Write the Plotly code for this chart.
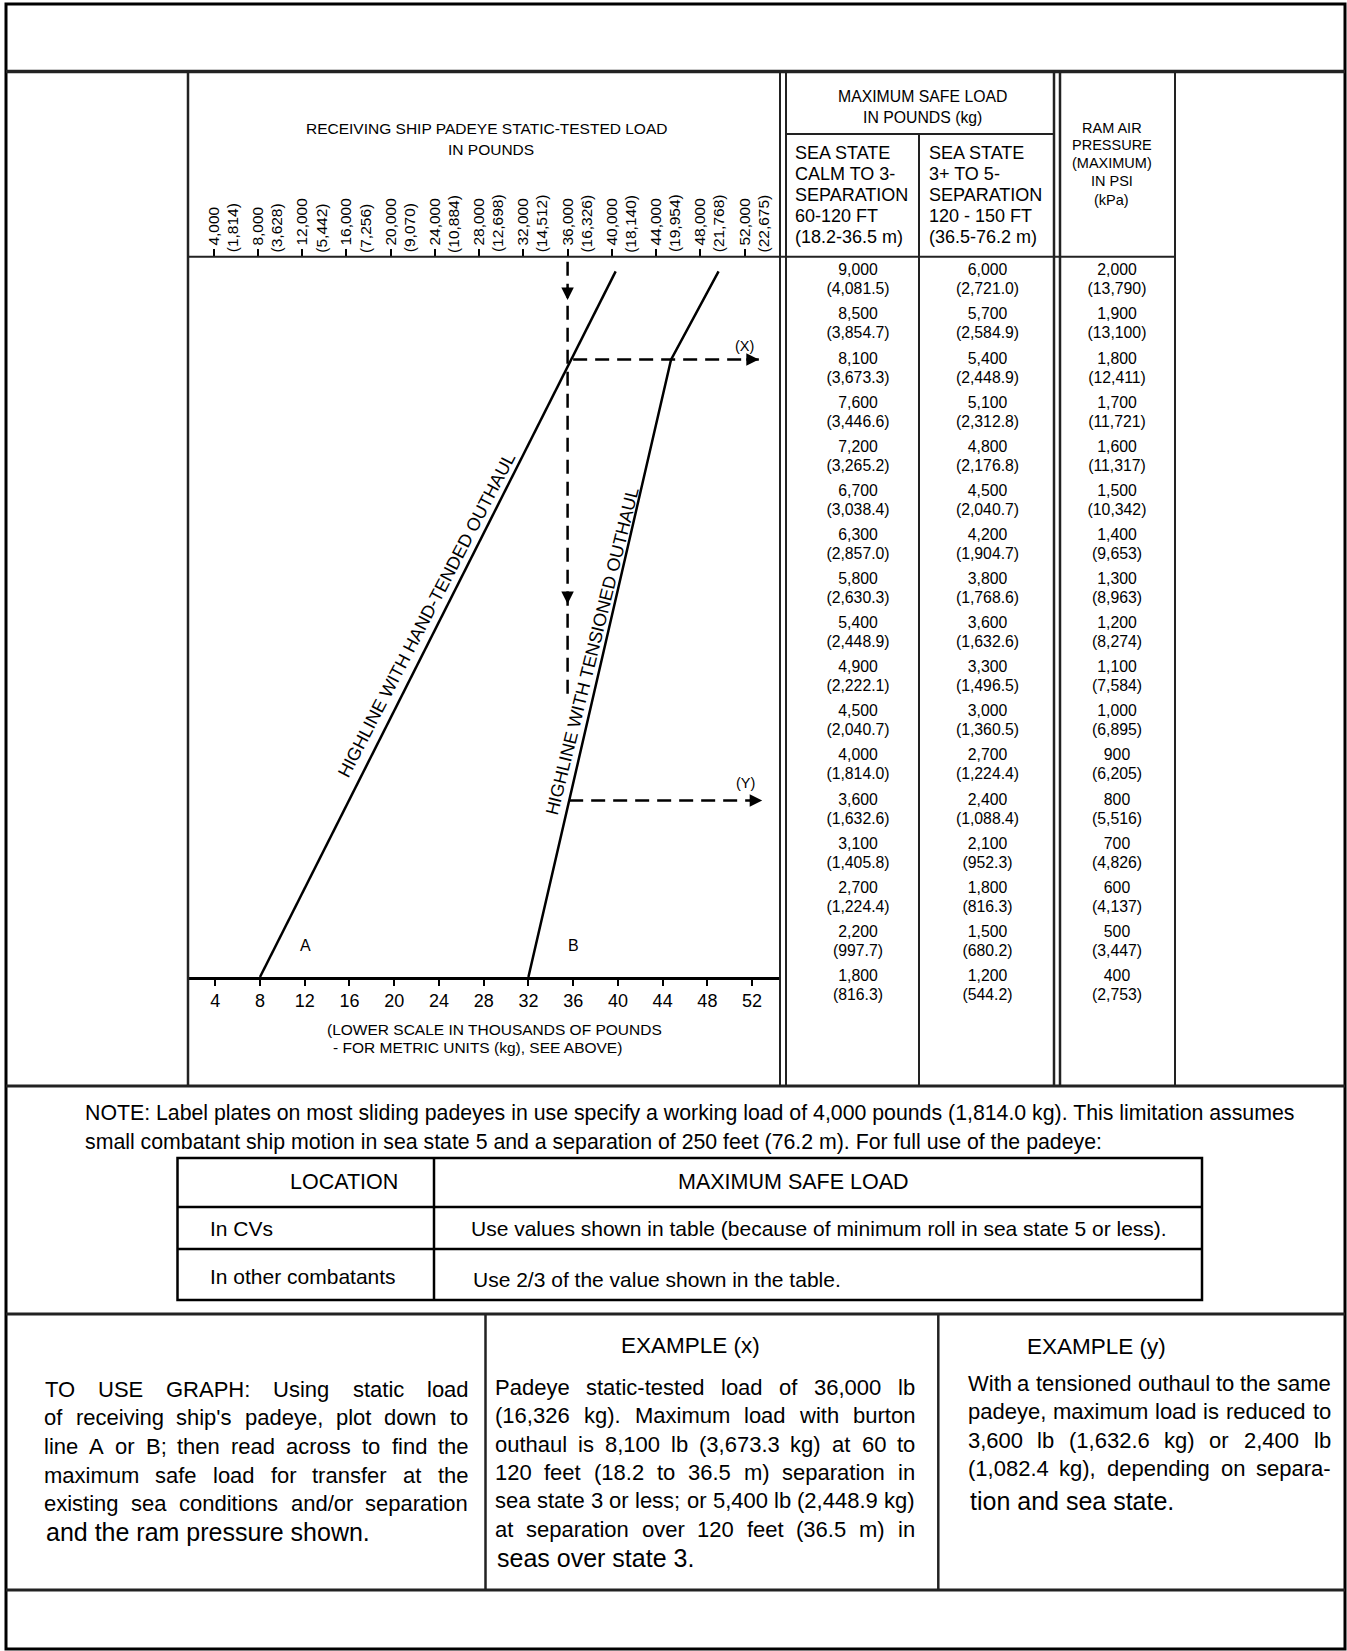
import numpy as np
import plotly.graph_objects as go

W, H = 1347, 1651
FONT = "Liberation Sans, Arial, sans-serif"
INK = "#000000"

# padeye static-tested load scale (thousands of pounds) and the kg figures printed above it
scale_k = [4, 8, 12, 16, 20, 24, 28, 32, 36, 40, 44, 48, 52]
scale_kg = [1814, 3628, 5442, 7256, 9070, 10884, 12698, 14512, 16326, 18140, 19954, 21768, 22675]

# maximum safe load table, one entry per row
calm_lb = [9000, 8500, 8100, 7600, 7200, 6700, 6300, 5800, 5400, 4900, 4500, 4000, 3600, 3100, 2700, 2200, 1800]
calm_kg = [4081.5, 3854.7, 3673.3, 3446.6, 3265.2, 3038.4, 2857.0, 2630.3, 2448.9, 2222.1, 2040.7, 1814.0,
           1632.6, 1405.8, 1224.4, 997.7, 816.3]
rough_lb = [6000, 5700, 5400, 5100, 4800, 4500, 4200, 3800, 3600, 3300, 3000, 2700, 2400, 2100, 1800, 1500, 1200]
rough_kg = [2721.0, 2584.9, 2448.9, 2312.8, 2176.8, 2040.7, 1904.7, 1768.6, 1632.6, 1496.5, 1360.5, 1224.4,
            1088.4, 952.3, 816.3, 680.2, 544.2]
ram_psi = [2000, 1900, 1800, 1700, 1600, 1500, 1400, 1300, 1200, 1100, 1000, 900, 800, 700, 600, 500, 400]
ram_kpa = [13790, 13100, 12411, 11721, 11317, 10342, 9653, 8963, 8274, 7584, 6895, 6205, 5516, 4826, 4137,
           3447, 2753]

# highlines: padeye load (k lb) where each line meets a table row
line_a_k = [8, 39.8]
line_a_at = [1800, 9000]
line_b_k = [32, 44.75, 49]
line_b_at = [1800, 8100, 9000]

# worked examples (x) and (y)
example_k = 36
example_x_at = 8100
example_y_at = 3600

# ---- page geometry (pixels) ----
ROW_PX = 44.1
AXIS_Y, GRAPH_TOP, SECTION_END = 977, 256.7, 1086
KG_SHIFT = 19 / ROW_PX


def px(x):
    return x / W


def py(y):
    return 1 - y / H


def row(v):
    return calm_lb.index(v)


# Arial / Liberation Sans advance widths, used to justify the paragraphs
AW = {"'": 191}
for chars, w in [("ijl", 222), ("ftI ,./:;", 278), ("r-()", 333), ("cksvxyzJ", 500),
                 ("ABEKPSVXY", 667), ("FTZ", 611), ("CDHNRUw", 722), ("GOQ", 778), ("mM", 833), ("W", 944)]:
    for c in chars:
        AW[c] = w


def text_w(s, size):
    return sum(AW.get(c, 556) for c in s) * size / 1000


shapes = []
annotations = []


def seg(x0, y0, x1, y1, w=2.5, color="#222222"):
    shapes.append(dict(type="line", xref="paper", yref="paper", x0=px(x0), x1=px(x1), y0=py(y0), y1=py(y1),
                       line=dict(color=color, width=w)))


def label(text, x, y, size, anchor="center"):
    annotations.append(dict(text=text, x=px(x), y=py(y), xref="paper", yref="paper", showarrow=False,
                            xanchor=anchor, yanchor="middle", font=dict(size=size)))


def paragraph(lines, left, right, ys, size, last_size=None):
    for k, (line, y) in enumerate(zip(lines, ys)):
        words = line.split(" ")
        if k == len(lines) - 1:
            label(line, left, y, last_size or size, "left")
            continue
        widths = [text_w(w, size) for w in words]
        gap = (right - left - sum(widths)) / (len(words) - 1)
        cur = left
        for word, ww in zip(words, widths):
            label(word, cur + ww / 2, y, size)
            cur += ww + gap


# ---- frame ----
shapes.append(dict(type="rect", xref="paper", yref="paper", x0=px(6), x1=px(1345), y0=py(4), y1=py(1649),
                   line=dict(color=INK, width=3)))
seg(6, 71.5, 1345, 71.5, 3.5)
seg(6, SECTION_END, 1345, SECTION_END, 3)
seg(6, 1314, 1345, 1314, 3)
seg(6, 1590, 1345, 1590, 3)
for x, w in [(188, 2.5), (780, 2), (786, 2), (1054, 2.5), (1060, 2.5), (1175, 2)]:
    seg(x, 71.5, x, SECTION_END, w)
seg(919, 134, 919, SECTION_END, 2)
seg(786, 134, 1054, 134, 2)
seg(188, GRAPH_TOP, 1175, GRAPH_TOP, 2)
# location table
shapes.append(dict(type="rect", xref="paper", yref="paper", x0=px(177.5), x1=px(1202), y0=py(1158), y1=py(1300),
                   line=dict(color=INK, width=2.5)))
seg(177.5, 1207, 1202, 1207, 2.5, INK)
seg(177.5, 1249, 1202, 1249, 2.5, INK)
seg(434, 1158, 434, 1300, 2.5, INK)
# example columns
seg(485.5, 1314, 485.5, 1590, 2.5)
seg(938.3, 1314, 938.3, 1590, 2.5)

# ---- headings ----
label("RECEIVING SHIP PADEYE STATIC-TESTED LOAD", 486.5, 129, 15.5)
label("IN POUNDS", 491, 149.3, 15.5)
label("MAXIMUM SAFE LOAD", 922, 96.7, 15.8)
label("IN POUNDS (kg)", 922, 117.3, 15.8)
for k, (a, b) in enumerate(zip(["SEA STATE", "CALM TO 3-", "SEPARATION", "60-120 FT", "(18.2-36.5 m)"],
                               ["SEA STATE", "3+ TO 5-", "SEPARATION", "120 - 150 FT", "(36.5-76.2 m)"])):
    label(a, 792.7, 153.3 + 20.85 * k, 18, "left")
    label(b, 926.7, 153.3 + 20.85 * k, 18, "left")
for t, y in zip(["RAM AIR", "PRESSURE", "(MAXIMUM)", "IN PSI", "(kPa)"], [128.3, 145, 162.7, 180.7, 200]):
    label(t, 1111.5, y, 14.5)
label("(LOWER SCALE IN THOUSANDS OF POUNDS", 325.4, 1029.3, 15.5, "left")
label("- FOR METRIC UNITS (kg), SEE ABOVE)", 331, 1047.3, 15.5, "left")

# ---- note and location table ----
label("NOTE: Label plates on most sliding padeyes in use specify a working load of 4,000 pounds (1,814.0 kg). "
      "This limitation assumes", 83, 1113.3, 21.3, "left")
label("small combatant ship motion in sea state 5 and a separation of 250 feet (76.2 m). For full use of the padeye:",
      83, 1141.7, 21.3, "left")
label("LOCATION", 344, 1181.7, 21.5)
label("MAXIMUM SAFE LOAD", 793, 1181.7, 21.5)
label("In CVs", 208, 1228.3, 21, "left")
label("Use values shown in table (because of minimum roll in sea state 5 or less).", 468.9, 1228.3, 21, "left")
label("In other combatants", 208, 1276.7, 21, "left")
label("Use 2/3 of the value shown in the table.", 471.4, 1279.3, 21, "left")

# ---- how-to and examples ----
paragraph(["TO USE GRAPH: Using static load",
           "of receiving ship's padeye, plot down to",
           "line A or B; then read across to find the",
           "maximum safe load for transfer at the",
           "existing sea conditions and/or separation",
           "and the ram pressure shown."],
          44.3, 468.3, [1389.3, 1417.7, 1446.7, 1475, 1503.3, 1532.3], 22, 25)
label("EXAMPLE (x)", 690, 1345, 22.5)
paragraph(["Padeye static-tested load of 36,000 lb",
           "(16,326 kg). Maximum load with burton",
           "outhaul is 8,100 lb (3,673.3 kg) at 60 to",
           "120 feet (18.2 to 36.5 m) separation in",
           "sea state 3 or less; or 5,400 lb (2,448.9 kg)",
           "at separation over 120 feet (36.5 m) in",
           "seas over state 3."],
          495, 915, [1387.3 + 28.4 * k for k in range(7)], 22, 25)
label("EXAMPLE (y)", 1096.7, 1346.7, 22.5)
paragraph(["With a tensioned outhaul to the same",
           "padeye, maximum load is reduced to",
           "3,600 lb (1,632.6 kg) or 2,400 lb",
           "(1,082.4 kg), depending on separa-",
           "tion and sea state."],
          967.7, 1330.7, [1383.3, 1411.7, 1440, 1468.3, 1501], 22, 25)

fig = go.Figure()

# ---- graph ----
fig.add_trace(go.Scatter(x=line_a_k, y=[row(v) for v in line_a_at], mode="lines",
                         line=dict(color=INK, width=2.5), hoverinfo="skip"))
fig.add_trace(go.Scatter(x=line_b_k, y=[row(v) for v in line_b_at], mode="lines",
                         line=dict(color=INK, width=2.5), hoverinfo="skip"))

dash = dict(color=INK, width=2.5, dash="14px,8px")
# example (x): read down from the top scale, then across
fig.add_trace(go.Scatter(x=[example_k, example_k], y=[-0.22, 9.67], mode="lines", line=dash,
                         xaxis="x2", hoverinfo="skip"))
fig.add_trace(go.Scatter(x=[example_k, 52.6], y=[row(example_x_at)] * 2, mode="lines", line=dash,
                         hoverinfo="skip"))
# example (y): across from the tensioned line
b_rows = [row(v) for v in line_b_at][::-1]
y_start = float(np.interp(row(example_y_at), b_rows, line_b_k[::-1]))
fig.add_trace(go.Scatter(x=[y_start, 52.9], y=[row(example_y_at)] * 2, mode="lines", line=dash,
                         hoverinfo="skip"))

arrow = dict(text="", showarrow=True, arrowhead=2, arrowsize=1, arrowwidth=2.5, arrowcolor=INK, yref="y")
annotations += [
    dict(arrow, x=example_k, y=0.65, xref="x2", ax=0, ay=-14),
    dict(arrow, x=example_k, y=7.54, xref="x2", ax=0, ay=-14),
    dict(arrow, x=52.6, y=row(example_x_at), xref="x", ax=-14, ay=0),
    dict(arrow, x=52.9, y=row(example_y_at), xref="x", ax=-14, ay=0),
]

curve_font = dict(size=18)
annotations += [
    dict(text="HIGHLINE WITH HAND-TENDED OUTHAUL", x=22.9, y=7.79, xref="x", yref="y", showarrow=False,
         textangle=-62.5, font=curve_font),
    dict(text="HIGHLINE WITH TENSIONED OUTHAUL", x=37.73, y=8.61, xref="x", yref="y", showarrow=False,
         textangle=-76, font=curve_font),
    dict(text="A", x=12.1, y=15.29, xref="x", yref="y", showarrow=False, font=dict(size=16)),
    dict(text="B", x=36.0, y=15.29, xref="x", yref="y", showarrow=False, font=dict(size=16)),
    dict(text="(X)", x=51.3, y=1.69, xref="x", yref="y", showarrow=False, font=dict(size=14.5)),
    dict(text="(Y)", x=51.4, y=11.6, xref="x", yref="y", showarrow=False, font=dict(size=14.5)),
]

# kg equivalents printed beside the top scale
for k, kg in zip(scale_k, scale_kg):
    annotations.append(dict(text=f"({kg:,})", x=k, xref="x2", y=py(254.5), yref="paper", xshift=18.5,
                            yanchor="bottom", textangle=-90, showarrow=False, font=dict(size=15.5)))

# ---- table cells (own y axis with the same row pitch, reaching down to the section line) ----
rows = list(range(len(calm_lb)))
columns = [(calm_lb, [f"({v:,.1f})" for v in calm_kg]),
           (rough_lb, [f"({v:,.1f})" for v in rough_kg]),
           (ram_psi, [f"({v:,})" for v in ram_kpa])]
for col, (top, bottom) in enumerate(columns):
    fig.add_trace(go.Scatter(x=[col] * len(rows), y=rows, text=[f"{v:,}" for v in top], mode="text",
                             xaxis="x3", yaxis="y2", textfont=dict(size=15.8, color=INK), cliponaxis=False,
                             hoverinfo="skip"))
    fig.add_trace(go.Scatter(x=[col] * len(rows), y=[r + KG_SHIFT for r in rows], text=bottom, mode="text",
                             xaxis="x3", yaxis="y2", textfont=dict(size=15.8, color=INK), cliponaxis=False,
                             hoverinfo="skip"))

# axis calibration: bottom scale, top scale, table columns, rows
bottom_range = [(188 - 170.5) / 11.185, (780 - 170.5) / 11.185]
top_range = [(188 - 169.5) / 11.058, (780 - 169.5) / 11.058]
last_row = len(calm_lb) - 1
row_top = last_row - (AXIS_Y - GRAPH_TOP) / ROW_PX
row_end = last_row + (SECTION_END - AXIS_Y) / ROW_PX

fig.update_layout(
    width=W, height=H,
    margin=dict(l=0, r=0, t=0, b=0, pad=0),
    paper_bgcolor="white",
    plot_bgcolor="rgba(0,0,0,0)",
    showlegend=False,
    font=dict(family=FONT, color=INK),
    xaxis=dict(domain=[px(188), px(780)], range=bottom_range, anchor="y",
               tickvals=scale_k, ticktext=[str(k) for k in scale_k], tickfont=dict(size=18),
               ticks="outside", ticklen=6, tickwidth=2, tickcolor=INK,
               showline=True, linewidth=2.5, linecolor=INK, showgrid=False, zeroline=False),
    xaxis2=dict(overlaying="x", side="top", anchor="y", range=top_range,
                tickvals=scale_k, ticktext=[f"{k * 1000:,}" for k in scale_k], tickangle=-90,
                tickfont=dict(size=15.5), ticks="outside", ticklen=7, tickwidth=1.5, tickcolor=INK,
                showline=False, showgrid=False, zeroline=False),
    xaxis3=dict(domain=[px(786), px(1175)], range=[(786 - 858) / 129.5, (1175 - 858) / 129.5],
                anchor="y2", visible=False),
    yaxis=dict(domain=[py(AXIS_Y), py(GRAPH_TOP)], range=[last_row, row_top],
               visible=False, anchor="x"),
    yaxis2=dict(domain=[py(SECTION_END), py(GRAPH_TOP)], range=[row_end, row_top],
                visible=False, anchor="x3"),
    shapes=shapes,
    annotations=annotations,
)

fig.write_html("out.html", config={"displayModeBar": False},
               post_script="document.body.style.margin = '0';")
